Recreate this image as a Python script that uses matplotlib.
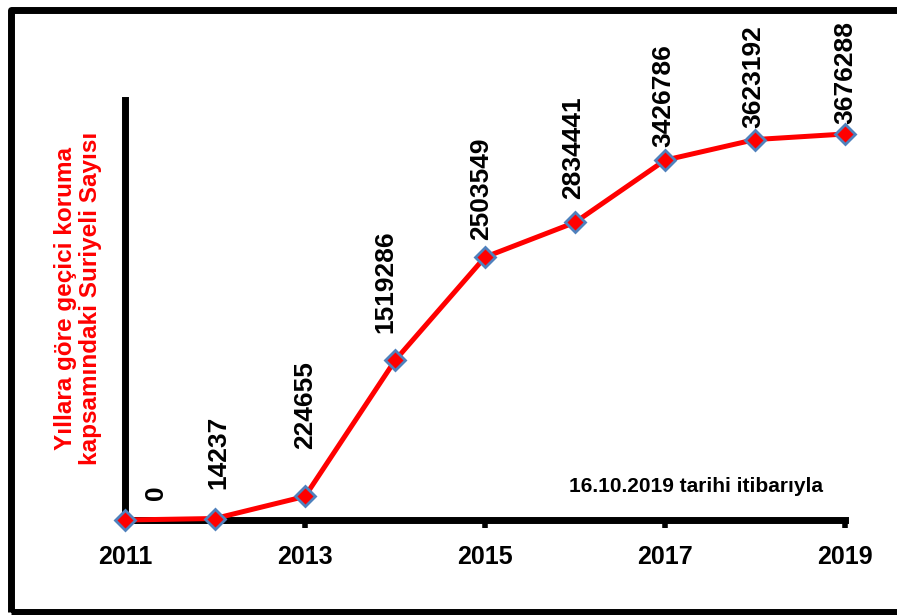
import matplotlib
matplotlib.use("Agg")
import matplotlib.pyplot as plt
from matplotlib.patches import Rectangle

years = [2011, 2012, 2013, 2014, 2015, 2016, 2017, 2018, 2019]
values = [0, 14237, 224655, 1519286, 2503549, 2834441, 3426786, 3623192, 3676288]
tick_years = [2011, 2013, 2015, 2017, 2019]
tick_labels = ["2011", "2013", "2015", "2017", "2019"]
ylabel = "Yıllara göre geçici koruma\nkapsamındaki Suriyeli Sayısı"
note = "16.10.2019 tarihi itibarıyla"

# label offsets (pixels) from each point
label_dx = [31, 3, 0, -10, -4, -2, -2, -2, 0]
label_dy = [20, 30, 47, 27, 17, 23, 13, 12, 10]

plt.rcParams['font.family'] = ['Liberation Sans', 'DejaVu Sans']

W, H = 897, 615
fig = plt.figure(figsize=(W / 100, H / 100), dpi=100)
fig.patch.set_facecolor('white')

# outer border
border = Rectangle((10.5 / W, 3.5 / H), 1.05 - 10.5 / W, (605 - 3.5) / H,
                   transform=fig.transFigure, fill=False, edgecolor='black',
                   linewidth=5, joinstyle='round', clip_on=False)
fig.patches.append(border)

ax = fig.add_axes([125 / W, 95 / H, (845 - 125) / W, (520 - 100) / H])
ax.set_xlim(2011, 2019)
ax.set_ylim(0, 4000000)

ax.plot(years, values, color='#FF0000', linewidth=3.6, marker='D',
        markersize=10, markerfacecolor='#FF0000', markeredgecolor='#4F81BD',
        markeredgewidth=2, clip_on=False, zorder=5)

for x, v, dx, dy in zip(years, values, label_dx, label_dy):
    ax.annotate(str(v), (x, v), xytext=(dx, dy), textcoords='offset pixels',
                rotation=90, ha='center', va='bottom', fontsize=19,
                fontweight='bold', color='black', annotation_clip=False)

for s in ['top', 'right']:
    ax.spines[s].set_visible(False)
for s in ['left', 'bottom']:
    ax.spines[s].set_linewidth(5)
    ax.spines[s].set_color('black')
    ax.spines[s].set_capstyle('projecting')

ax.set_xticks(tick_years)
ax.set_xticklabels(tick_labels, fontsize=18, fontweight='bold')
ax.tick_params(axis='x', direction='out', length=6, width=4, pad=12)
ax.set_yticks([])

fig.text(78 / W, 1 - 298 / H, ylabel, rotation=90, ha='center', va='center',
         fontsize=17.5, fontweight='bold', color='#FF0000', linespacing=1.15,
         multialignment='center')

fig.text(696 / W, 1 - 487 / H, note, ha='center', va='center',
         fontsize=15, fontweight='bold', color='black')

fig.savefig('out.png', dpi=100, facecolor='white')
